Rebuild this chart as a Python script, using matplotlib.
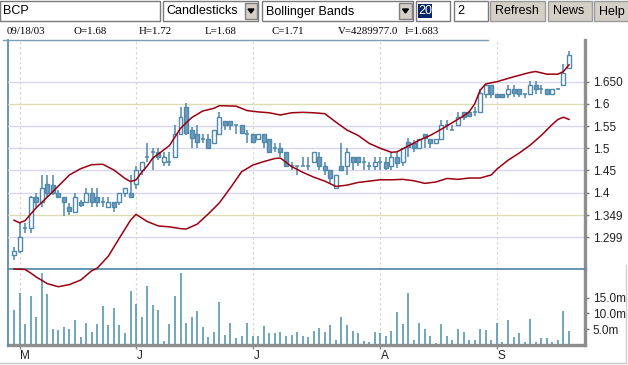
import numpy as np
import matplotlib
matplotlib.use("Agg")
import matplotlib.pyplot as plt
from matplotlib.patches import Rectangle, Polygon
from matplotlib.lines import Line2D

W, H = 628, 365

# daily bars 04/30/03 .. 09/18/03 (index 0..100)
opens = [1.260, 1.269, 1.320, 1.320, 1.390, 1.380, 1.419, 1.417, 1.399, 1.390,
         1.368, 1.357, 1.380, 1.378, 1.399, 1.390, 1.378, 1.368, 1.378, 1.378,
         1.399, 1.399, 1.419, 1.450, 1.480, 1.491, 1.491, 1.470, 1.470, 1.480,
         1.532, 1.594, 1.541, 1.532, 1.521, 1.521, 1.511, 1.532, 1.561, 1.561,
         1.552, 1.552, 1.532, 1.532, 1.521, 1.532, 1.521, 1.500, 1.501, 1.491,
         1.460, 1.460, 1.460, 1.460, 1.470, 1.481, 1.460, 1.450, 1.410, 1.460,
         1.460, 1.481, 1.481, 1.470, 1.460, 1.460, 1.470, 1.470, 1.459, 1.481,
         1.470, 1.515, 1.511, 1.500, 1.532, 1.520, 1.511, 1.520, 1.552, 1.541,
         1.552, 1.582, 1.582, 1.582, 1.582, 1.622, 1.643, 1.622, 1.622, 1.622,
         1.633, 1.633, 1.622, 1.622, 1.643, 1.633, 1.633, 1.622, 1.633, 1.643,
         1.680]
highs = [1.278, 1.331, 1.331, 1.392, 1.400, 1.440, 1.440, 1.440, 1.406, 1.390,
         1.376, 1.399, 1.384, 1.410, 1.410, 1.410, 1.390, 1.390, 1.378, 1.399,
         1.410, 1.440, 1.459, 1.470, 1.511, 1.500, 1.500, 1.491, 1.491, 1.552,
         1.594, 1.601, 1.549, 1.552, 1.532, 1.532, 1.541, 1.582, 1.561, 1.561,
         1.552, 1.552, 1.541, 1.532, 1.532, 1.532, 1.521, 1.511, 1.511, 1.491,
         1.470, 1.460, 1.481, 1.481, 1.491, 1.491, 1.470, 1.450, 1.440, 1.511,
         1.500, 1.481, 1.481, 1.481, 1.470, 1.481, 1.481, 1.481, 1.491, 1.491,
         1.500, 1.523, 1.518, 1.521, 1.532, 1.520, 1.520, 1.564, 1.564, 1.552,
         1.582, 1.582, 1.584, 1.594, 1.633, 1.643, 1.643, 1.622, 1.622, 1.643,
         1.643, 1.633, 1.622, 1.652, 1.652, 1.643, 1.633, 1.633, 1.636, 1.691,
         1.720]
lows = [1.248, 1.265, 1.309, 1.309, 1.368, 1.368, 1.391, 1.395, 1.388, 1.348,
        1.350, 1.357, 1.368, 1.378, 1.368, 1.368, 1.368, 1.368, 1.357, 1.372,
        1.391, 1.388, 1.408, 1.440, 1.470, 1.450, 1.474, 1.459, 1.459, 1.480,
        1.532, 1.530, 1.500, 1.500, 1.511, 1.500, 1.511, 1.532, 1.541, 1.541,
        1.532, 1.532, 1.511, 1.511, 1.521, 1.500, 1.491, 1.492, 1.481, 1.459,
        1.450, 1.440, 1.460, 1.450, 1.470, 1.450, 1.440, 1.421, 1.410, 1.450,
        1.440, 1.450, 1.460, 1.450, 1.450, 1.450, 1.450, 1.450, 1.450, 1.455,
        1.459, 1.481, 1.492, 1.500, 1.500, 1.500, 1.511, 1.520, 1.541, 1.541,
        1.552, 1.564, 1.573, 1.573, 1.582, 1.613, 1.613, 1.613, 1.613, 1.613,
        1.615, 1.615, 1.613, 1.622, 1.622, 1.622, 1.620, 1.622, 1.633, 1.643,
        1.680]
closes = [1.269, 1.300, 1.320, 1.390, 1.380, 1.410, 1.399, 1.399, 1.391, 1.380,
          1.359, 1.390, 1.372, 1.399, 1.380, 1.380, 1.378, 1.378, 1.368, 1.399,
          1.410, 1.391, 1.450, 1.470, 1.480, 1.491, 1.481, 1.480, 1.470, 1.532,
          1.571, 1.534, 1.523, 1.515, 1.521, 1.501, 1.541, 1.571, 1.552, 1.552,
          1.552, 1.534, 1.532, 1.515, 1.532, 1.514, 1.492, 1.500, 1.491, 1.460,
          1.460, 1.460, 1.460, 1.460, 1.491, 1.460, 1.450, 1.432, 1.440, 1.450,
          1.491, 1.470, 1.470, 1.470, 1.460, 1.470, 1.470, 1.455, 1.481, 1.466,
          1.500, 1.504, 1.500, 1.520, 1.523, 1.513, 1.520, 1.552, 1.552, 1.541,
          1.571, 1.571, 1.573, 1.582, 1.624, 1.643, 1.622, 1.615, 1.615, 1.633,
          1.624, 1.622, 1.622, 1.643, 1.633, 1.633, 1.622, 1.633, 1.633, 1.670,
          1.710]
# volume in millions
volumes = [11.0, 16.3, 6.7, 15.4, 9.0, 22.8, 16.0, 4.9, 4.6, 5.7,
           5.2, 7.8, 2.5, 7.1, 4.0, 6.5, 12.2, 6.2, 11.6, 6.2,
           3.7, 17.0, 12.9, 8.7, 18.6, 12.5, 11.0, 1.4, 6.5, 15.4,
           22.8, 7.1, 9.0, 10.6, 5.6, 2.4, 4.0, 13.5, 3.3, 7.1,
           2.1, 3.0, 6.8, 3.0, 3.0, 6.1, 3.7, 3.7, 4.0, 2.7,
           3.3, 4.0, 3.0, 2.4, 4.3, 5.5, 4.0, 6.2, 1.7, 8.7,
           6.2, 4.3, 3.7, 1.4, 1.1, 4.0, 3.7, 3.0, 4.3, 10.3,
           6.5, 16.3, 1.7, 7.1, 4.9, 3.0, 0.5, 6.5, 2.7, 1.7,
           5.2, 4.0, 1.7, 1.7, 4.9, 4.6, 1.7, 6.8, 1.1, 7.8,
           2.4, 3.7, 1.1, 8.1, 1.1, 2.1, 2.1, 1.1, 1.7, 10.6,
           4.29]

# bollinger bands (20, 2) read at these bar indices
upper_idx = [0, 1, 2, 4, 6, 8, 10, 12, 14, 16, 18, 20, 21, 22, 23, 24, 25, 26,
             28, 30, 32, 34, 36, 37, 40, 42, 44, 46, 48, 50, 52, 54, 56, 58, 60,
             62, 64, 66, 68, 69, 71, 73, 75, 77, 79, 81, 82, 83, 84, 85, 87, 90,
             93, 94, 96, 98, 99, 100]
upper_band = [1.338, 1.332, 1.337, 1.366, 1.390, 1.415, 1.440, 1.454, 1.463,
              1.464, 1.451, 1.432, 1.425, 1.429, 1.446, 1.460, 1.478, 1.487,
              1.506, 1.545, 1.569, 1.584, 1.590, 1.596, 1.595, 1.585, 1.582,
              1.580, 1.575, 1.580, 1.581, 1.580, 1.578, 1.559, 1.541, 1.529,
              1.511, 1.500, 1.491, 1.492, 1.505, 1.518, 1.529, 1.543, 1.558,
              1.573, 1.582, 1.600, 1.631, 1.645, 1.650, 1.661, 1.671, 1.673,
              1.667, 1.667, 1.673, 1.688]
lower_idx = [0, 2, 3, 4, 6, 8, 10, 12, 14, 15, 17, 19, 21, 22, 23, 24, 26, 28,
             30, 31, 33, 35, 37, 39, 41, 43, 45, 47, 48, 50, 52, 54, 56, 58, 60,
             62, 64, 66, 68, 70, 72, 74, 76, 78, 80, 82, 84, 86, 87, 89, 91, 93,
             95, 97, 98, 99, 100]
lower_band = [1.228, 1.227, 1.219, 1.210, 1.195, 1.188, 1.193, 1.203, 1.224,
              1.230, 1.257, 1.298, 1.338, 1.351, 1.343, 1.335, 1.325, 1.323,
              1.319, 1.318, 1.329, 1.352, 1.377, 1.411, 1.447, 1.462, 1.470,
              1.477, 1.478, 1.459, 1.446, 1.435, 1.426, 1.414, 1.417, 1.423,
              1.426, 1.429, 1.429, 1.430, 1.427, 1.421, 1.424, 1.432, 1.430,
              1.433, 1.433, 1.440, 1.453, 1.473, 1.489, 1.507, 1.529, 1.554,
              1.565, 1.570, 1.565]

month_labels = ["M", "J", "J", "A", "S"]
month_idx = [1, 22, 43, 66, 87]
price_ticks = [1.299, 1.349, 1.4, 1.45, 1.5, 1.55, 1.6, 1.65]
price_tick_labels = ["1.299", "1.349", "1.4", "1.45", "1.5", "1.55", "1.6", "1.650"]
khaki_ticks = [1.349, 1.6]
vol_ticks = [5, 10, 15]
vol_tick_labels = ["5.0m", "10.0m", "15.0m"]

info_date = "09/18/03"
info_volume = 4289977.0
info_indicator = 1.683

SANS = ["Liberation Sans", "DejaVu Sans"]
SERIF = ["Liberation Serif", "DejaVu Serif"]
CANDLE = "#4f88aa"
FILLED = "#6f9cbb"
BAND = "#9a0010"
SPINE = "#5a8cab"
GRAYBAND = "#8e8e8e"


def fx(x):
    return x / W


def fy(y):
    return 1 - y / H


fig = plt.figure(figsize=(W / 100, H / 100), dpi=100)
fig.patch.set_facecolor("white")

ax_v = fig.add_axes([fx(8), fy(345), 577 / W, 76 / H])
ax_p = fig.add_axes([fx(8), fy(269), 577 / W, 229 / H])
ax_p.set_zorder(3)
ax_p.patch.set_alpha(0)

idx = np.arange(len(closes))
xlim = (-1.08, 102.88)

# ---- price panel
ax_p.set_xlim(*xlim)
ax_p.set_ylim(1.228, 1.744)
for t in price_ticks:
    c = "#dedcb4" if t in khaki_ticks else "#d6d6f2"
    ax_p.axhline(t, color=c, lw=1.0, zorder=0)
for m in month_idx:
    ax_p.axvline(m, color="#d8d8cc", lw=0.9, ls=(0, (2, 2)), zorder=0)
    ax_v.axvline(m, color="#d8d8cc", lw=0.9, ls=(0, (2, 2)), zorder=0)

bw = 0.72
for i in idx:
    o, h, l, c = opens[i], highs[i], lows[i], closes[i]
    ax_p.vlines(i, l, h, color=CANDLE, lw=1.1, zorder=2)
    if abs(c - o) < 1e-9:
        ax_p.hlines(c, i - bw / 2, i + bw / 2, color=CANDLE, lw=1.1, zorder=3)
    elif c > o:
        ax_p.add_patch(Rectangle((i - bw / 2, o), bw, c - o, facecolor="white",
                                 edgecolor=CANDLE, lw=1.0, zorder=3))
    else:
        ax_p.add_patch(Rectangle((i - bw / 2, c), bw, o - c, facecolor=FILLED,
                                 edgecolor=CANDLE, lw=1.0, zorder=3))

ax_p.plot(upper_idx, upper_band, color=BAND, lw=1.1, zorder=4)
ax_p.plot(lower_idx, lower_band, color=BAND, lw=1.1, zorder=4, clip_on=False)

ax_p.set_xticks([])
ax_p.yaxis.tick_right()
ax_p.set_yticks(price_ticks)
ax_p.set_yticklabels(price_tick_labels, fontfamily=SANS)
ax_p.tick_params(axis="y", length=3, width=1, color="#777777", pad=2.5,
                 labelsize=8.5, labelcolor="#222222")
for s in ("top", "left"):
    ax_p.spines[s].set_visible(False)
ax_p.spines["bottom"].set_color(SPINE)
ax_p.spines["bottom"].set_linewidth(1.3)
ax_p.spines["right"].set_color(GRAYBAND)
ax_p.spines["right"].set_linewidth(2.4)

# ---- volume panel
ax_v.set_xlim(*xlim)
ax_v.set_ylim(0, 24.0)
ax_v.vlines(idx, 0, volumes, color="#4a8ea8", lw=1.1)
ax_v.yaxis.tick_right()
ax_v.set_yticks(vol_ticks)
ax_v.set_yticklabels(vol_tick_labels, fontfamily=SANS)
ax_v.tick_params(axis="y", length=3, width=1, color="#777777", pad=2.5,
                 labelsize=8.5, labelcolor="#222222")
ax_v.set_xticks(month_idx)
ax_v.set_xticklabels([])
ax_v.tick_params(axis="x", length=3, width=1, color="#888888")
for m, lab in zip(month_idx, month_labels):
    ax_v.text(m + 0.15, -0.14, lab, transform=ax_v.get_xaxis_transform(),
              ha="left", va="center", fontsize=8.5, fontfamily=SANS,
              color="#222222")
ax_v.spines["top"].set_visible(False)
ax_v.spines["left"].set_visible(False)
ax_v.spines["bottom"].set_color(GRAYBAND)
ax_v.spines["bottom"].set_linewidth(2.4)
ax_v.spines["right"].set_color(GRAYBAND)
ax_v.spines["right"].set_linewidth(2.4)

# left frame line and rule under the info line
fig.add_artist(Line2D([fx(8), fx(8)], [fy(40), fy(345)], color=SPINE, lw=1.3))
fig.add_artist(Line2D([fx(3), fx(488)], [fy(40), fy(40)], color="#7d9db3", lw=1.0))
# outer faint frame below the chart
fig.add_artist(Line2D([fx(0), fx(626)], [fy(363), fy(363)], color="#c8c8c8", lw=1.0))
fig.add_artist(Line2D([fx(626), fx(626)], [fy(265), fy(363)], color="#d0d0d0", lw=1.0))

# ---- toolbar


def box(x0, x1, y0=1, y1=21, face="white", edge="#7a7a7a"):
    fig.add_artist(Rectangle((fx(x0), fy(y1)), fx(x1 - x0), (y1 - y0) / H,
                             facecolor=face, edgecolor=edge, lw=1.0,
                             transform=fig.transFigure))


def arrow_button(x0, x1):
    box(x0, x1, 3, 19, face="#d4d0c8", edge="#808080")
    cx = (x0 + x1) / 2
    fig.add_artist(Polygon([[fx(cx - 3), fy(9)], [fx(cx + 3), fy(9)], [fx(cx), fy(13)]],
                           closed=True, facecolor="black", edgecolor="black",
                           transform=fig.transFigure))


def label(x, y, s, **kw):
    fig.text(fx(x), fy(y), s, ha="left", va="center", **kw)


box(0, 160)
label(3, 11, "BCP", fontsize=9, fontfamily=SANS, color="black")
box(163, 258)
label(166, 11.5, "Candlesticks", fontsize=9, fontfamily=SANS, color="black")
arrow_button(245, 257)
box(262, 413)
label(266, 11.5, "Bollinger Bands", fontsize=9, fontfamily=SANS, color="black")
arrow_button(399, 412)
box(416, 450)
fig.add_artist(Rectangle((fx(418), fy(18)), fx(14), 14 / H, facecolor="#0a246a",
                         edgecolor="none", transform=fig.transFigure))
label(418.5, 11, "20", fontsize=9, fontfamily=SANS, color="white")
box(454, 488)
label(457, 11, "2", fontsize=9, fontfamily=SANS, color="black")
for x0, x1, s in [(490, 545, "Refresh"), (548, 592, "News"), (594, 640, "Help")]:
    box(x0, x1, 1, 21, face="#d4d0c8", edge="#9a9a9a")
    label(x0 + 5, 11.5, s, fontsize=9, fontfamily=SANS, color="black")

# ---- info line
info = [(7, info_date),
        (73, f"O={opens[-1]:.2f}"),
        (139, f"H={highs[-1]:.2f}"),
        (205, f"L={lows[-1]:.2f}"),
        (271, f"C={closes[-1]:.2f}"),
        (338, f"V={info_volume:.1f}"),
        (405, f"I={info_indicator:.3f}")]
for x, s in info:
    label(x, 31, s, fontsize=7.8, fontfamily=SERIF, color="black")

fig.savefig("out.png", dpi=100, facecolor="white")
